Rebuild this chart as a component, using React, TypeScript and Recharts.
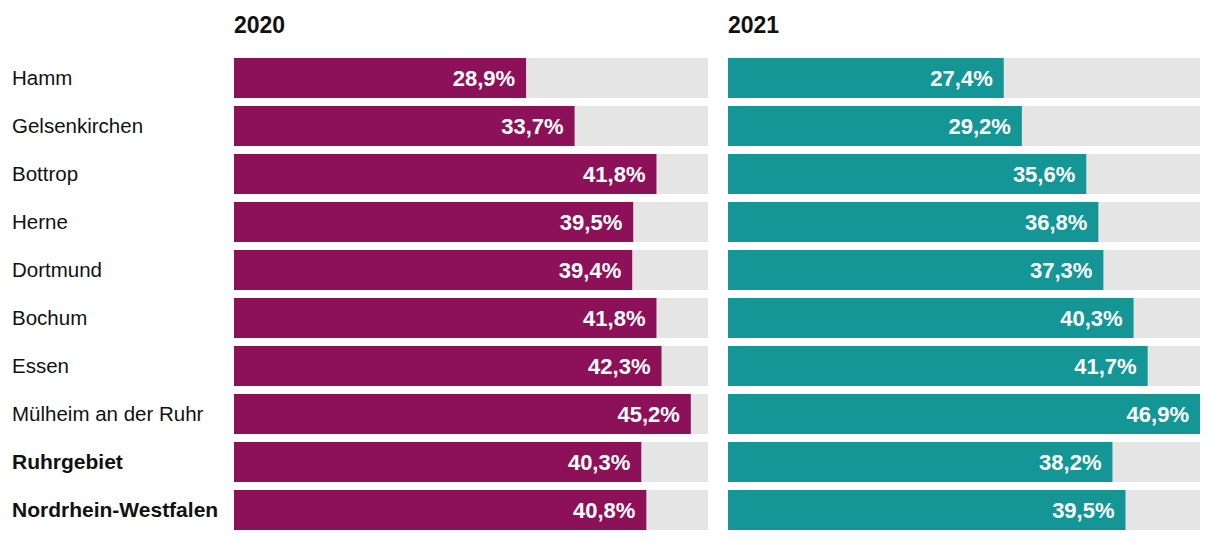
import React from 'react';
import { BarChart, Bar, XAxis, YAxis, LabelList } from 'recharts';

const cities = [
    'Hamm',
    'Gelsenkirchen',
    'Bottrop',
    'Herne',
    'Dortmund',
    'Bochum',
    'Essen',
    'Mülheim an der Ruhr',
    'Ruhrgebiet',
    'Nordrhein-Westfalen',
];
const values2020 = [28.9, 33.7, 41.8, 39.5, 39.4, 41.8, 42.3, 45.2, 40.3, 40.8];
const values2021 = [27.4, 29.2, 35.6, 36.8, 37.3, 40.3, 41.7, 46.9, 38.2, 39.5];
const boldRows = ['Ruhrgebiet', 'Nordrhein-Westfalen'];
const years = ['2020', '2021'];

const data = cities.map((name, i) => ({ name, v2020: values2020[i], v2021: values2021[i] }));

const FONT = '"Liberation Sans", Arial, sans-serif';
const MAX = 46.9;

const CityTick = (props: any) => {
    const name = props.payload.value;
    const bold = boldRows.includes(name);
    return (
        <text
            x={12}
            y={props.y}
            dy={7}
            textAnchor="start"
            fill="#111"
            fontFamily={FONT}
            fontSize={bold ? 21 : 20.5}
            fontWeight={bold ? 700 : 400}>
            {name}
        </text>
    );
};

const ValueLabel = (props: any) => {
    const { x, y, width, height, value } = props;
    return (
        <text
            x={x + width - 11}
            y={y + height / 2}
            dy={8}
            textAnchor="end"
            fill="#fff"
            fontFamily={FONT}
            fontSize={22}
            fontWeight={700}>
            {value.toFixed(1).replace('.', ',')}%
        </text>
    );
};

const titleStyle: React.CSSProperties = {
    position: 'absolute',
    top: 14,
    fontFamily: FONT,
    fontSize: 23,
    lineHeight: '23px',
    fontWeight: 700,
    color: '#111',
};

const App = () => {
    return (
        <div style={{ position: 'absolute', left: 0, top: 0, width: 1220, height: 542, background: '#fff' }}>
            <div style={{ ...titleStyle, left: 234 }}>{years[0]}</div>
            <div style={{ ...titleStyle, left: 728 }}>{years[1]}</div>
            <div style={{ position: 'absolute', left: 0, top: 0 }}>
                <BarChart
                    width={708}
                    height={542}
                    data={data}
                    layout="vertical"
                    margin={{ top: 54, right: 0, bottom: 8, left: 0 }}>
                    <XAxis type="number" hide domain={[0, MAX]} />
                    <YAxis
                        type="category"
                        dataKey="name"
                        width={234}
                        axisLine={false}
                        tickLine={false}
                        interval={0}
                        tick={<CityTick />}
                    />
                    <Bar
                        dataKey="v2020"
                        fill="#8d1159"
                        barSize={40}
                        background={{ fill: '#e5e5e5' }}
                        isAnimationActive={false}>
                        <LabelList dataKey="v2020" content={<ValueLabel />} />
                    </Bar>
                </BarChart>
            </div>
            <div style={{ position: 'absolute', left: 728, top: 0 }}>
                <BarChart
                    width={472}
                    height={542}
                    data={data}
                    layout="vertical"
                    margin={{ top: 54, right: 0, bottom: 8, left: 0 }}>
                    <XAxis type="number" hide domain={[0, MAX]} />
                    <YAxis type="category" dataKey="name" hide />
                    <Bar
                        dataKey="v2021"
                        fill="#149697"
                        barSize={40}
                        background={{ fill: '#e5e5e5' }}
                        isAnimationActive={false}>
                        <LabelList dataKey="v2021" content={<ValueLabel />} />
                    </Bar>
                </BarChart>
            </div>
        </div>
    );
};

export default App;
